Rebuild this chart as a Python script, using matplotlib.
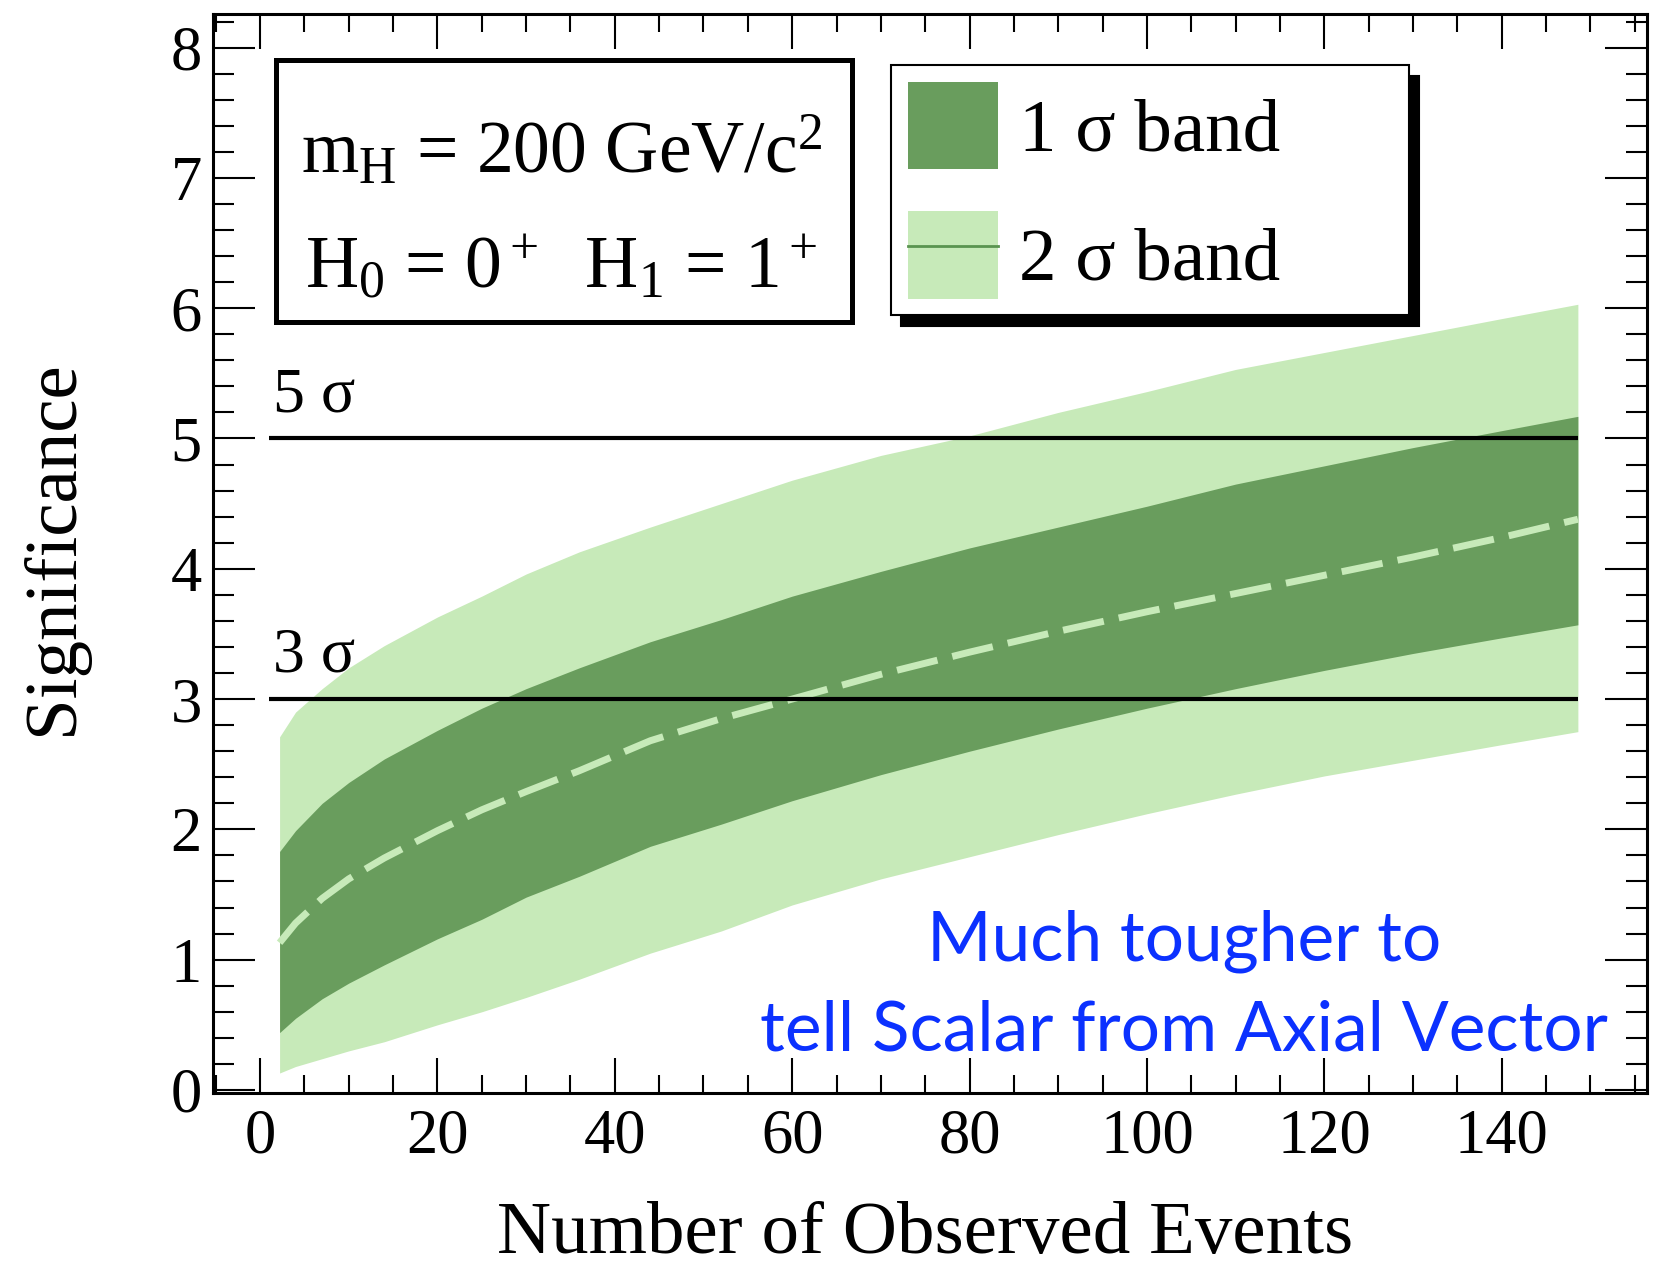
import matplotlib
matplotlib.use("Agg")
import matplotlib.pyplot as plt
from matplotlib.patches import Patch, Rectangle
from matplotlib.lines import Line2D
from matplotlib.ticker import MultipleLocator

plt.rcParams["font.family"] = "Liberation Serif"
plt.rcParams["mathtext.fontset"] = "custom"
plt.rcParams["mathtext.rm"] = "Liberation Serif"
plt.rcParams["mathtext.it"] = "Liberation Serif:italic"

# Data
n_events = [2.2, 4, 7, 10, 14, 20, 25, 30, 36, 44, 52, 60, 70, 80, 90, 100, 110, 120, 130, 140, 148.6]
median = [1.13, 1.28, 1.47, 1.62, 1.78, 1.99, 2.15, 2.29, 2.45, 2.68, 2.85, 3.00, 3.19, 3.36, 3.52,
          3.67, 3.81, 3.95, 4.09, 4.24, 4.38]
one_sigma_hi = [1.83, 1.99, 2.20, 2.36, 2.54, 2.76, 2.93, 3.08, 3.24, 3.44, 3.61, 3.79, 3.98, 4.16, 4.32,
                4.48, 4.65, 4.79, 4.93, 5.06, 5.17]
one_sigma_lo = [0.44, 0.55, 0.70, 0.82, 0.96, 1.16, 1.31, 1.48, 1.64, 1.87, 2.04, 2.22, 2.42, 2.60, 2.77,
                2.93, 3.08, 3.22, 3.35, 3.47, 3.57]
two_sigma_hi = [2.71, 2.90, 3.08, 3.24, 3.41, 3.63, 3.79, 3.96, 4.13, 4.32, 4.50, 4.68, 4.87, 5.02, 5.20,
                5.36, 5.53, 5.66, 5.79, 5.92, 6.03]
two_sigma_lo = [0.13, 0.18, 0.24, 0.30, 0.37, 0.50, 0.60, 0.71, 0.85, 1.05, 1.22, 1.42, 1.62, 1.79, 1.96,
                2.12, 2.27, 2.41, 2.53, 2.65, 2.75]

levels = [3, 5]
level_labels = ["3 σ", "5 σ"]
legend_labels = ["1 σ band", "2 σ band"]

dark = "#699d5d"
light = "#c7eab9"
line_green = "#5a9450"

fig = plt.figure(figsize=(16.53, 12.70), dpi=100)
ax = fig.add_axes([0.1289, 0.1394, 0.8675, 0.8498])

# bands
ax.fill_between(n_events, two_sigma_lo, two_sigma_hi, color=light, lw=0, zorder=1)
ax.fill_between(n_events, one_sigma_lo, one_sigma_hi, color=dark, lw=0, zorder=2)
ax.plot(n_events, median, color=light, lw=5, dashes=(6, 2.2), zorder=3)

# 3 sigma / 5 sigma lines
ax.hlines(levels, 1.0, 148.6, color="black", lw=3, zorder=4)
for lev, lab in zip(levels, level_labels):
    ax.text(1.5, lev + 0.21, lab, fontsize=46, va="baseline", ha="left")

ax.set_xlim(-5.3, 156.4)
ax.set_ylim(-0.023, 8.26)
ax.xaxis.set_major_locator(MultipleLocator(20))
ax.xaxis.set_minor_locator(MultipleLocator(5))
ax.yaxis.set_major_locator(MultipleLocator(1))
ax.yaxis.set_minor_locator(MultipleLocator(0.2))

ax.tick_params(which="both", direction="in", top=True, right=True, width=1.5)
ax.tick_params(axis="x", which="major", length=25, labelsize=45, pad=11)
ax.tick_params(axis="x", which="minor", length=13)
ax.tick_params(axis="y", which="major", length=30, labelsize=45, pad=8)
ax.tick_params(axis="y", which="minor", length=15)
for sp in ax.spines.values():
    sp.set_linewidth(2.2)

ax.set_xlabel("Number of Observed Events", fontsize=54)
ax.set_ylabel("Significance", fontsize=54)
ax.xaxis.set_label_coords(0.4965, -0.101)
ax.yaxis.set_label_coords(-0.087, 0.505)

# info box
ax.add_patch(Rectangle((0.0439, 0.7144), 0.4017, 0.2426, transform=ax.transAxes,
                       facecolor="white", edgecolor="black", lw=3.6, zorder=5))
ax.text(0.243, 0.853, r"$\mathrm{m_H}$ = 200 GeV/$\mathrm{c^2}$", transform=ax.transAxes,
        fontsize=53, ha="center", va="baseline", zorder=6)
ax.text(0.243, 0.747, r"$\mathrm{H_0}$ = $\mathrm{0^+}$  $\mathrm{H_1}$ = $\mathrm{1^+}$",
        transform=ax.transAxes, fontsize=53, ha="center", va="baseline", zorder=6)

# legend
h1 = Patch(facecolor=dark, edgecolor="none")
h2 = (Patch(facecolor=light, edgecolor="none"), Line2D([], [], color=line_green, lw=2))
leg = ax.legend([h1, h2], legend_labels, loc="upper left", mode="expand",
                bbox_to_anchor=(0.4728, 0.7144, 0.3612, 0.238), borderaxespad=0,
                fontsize=54, handlelength=1.2, handleheight=1.42, handletextpad=0.29,
                labelspacing=0.56, borderpad=0.22, fancybox=False, framealpha=1,
                edgecolor="black",
                shadow={"ox": 7, "oy": -8, "facecolor": "black", "edgecolor": "black", "alpha": 1})
leg.get_frame().set_linewidth(1.5)
leg.set_zorder(7)

# comment
ax.text(0.677, 0.1223, "Much tougher to", transform=ax.transAxes, fontsize=50,
        family="Lato", color="#0b31ff", ha="center", va="baseline")
ax.text(0.677, 0.0389, "tell Scalar from Axial Vector", transform=ax.transAxes, fontsize=50,
        family="Lato", color="#0b31ff", ha="center", va="baseline")

fig.savefig("out.png", dpi=100)
